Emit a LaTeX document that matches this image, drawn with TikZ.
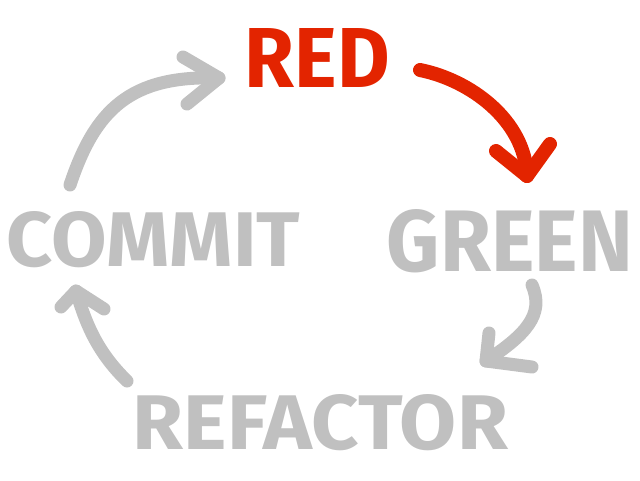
\documentclass[tikz,border=0pt]{standalone}
\usepackage{fontspec}
\setmainfont{Fira Sans}
\usepackage{graphicx}
\definecolor{tddred}{HTML}{E32400}
\definecolor{tddgray}{HTML}{C0C0C0}
\tikzset{
  word/.style={inner sep=0pt, outer sep=0pt, font=\bfseries},
  stroke/.style={line width=13pt, line cap=round, line join=round},
  redstroke/.style={stroke, draw=tddred, line width=14pt},
  graystroke/.style={stroke, draw=tddgray}
}
\begin{document}
\begin{tikzpicture}[x=1pt,y=-1pt]
\useasboundingbox (0,0) rectangle (640,480);
% words
\node[word, text=tddred] (red) at (317.5,57.5) {\resizebox{145pt}{59pt}{RED}};
\node[word, text=tddgray] (green) at (510,241) {\resizebox{246pt}{62pt}{GREEN}};
\node[word, text=tddgray] (refactor) at (320.5,422.5) {\resizebox{375pt}{55pt}{REFACTOR}};
\node[word, text=tddgray] (commit) at (153.5,239.5) {\resizebox{293pt}{55pt}{COMMIT}};
% arrow end points
\coordinate (rgS) at (420,70);
\coordinate (rgT) at (527,176);
\coordinate (rgB1) at (496,151);
\coordinate (rgB2) at (550,144);
\coordinate (grS) at (532,285);
\coordinate (grT) at (486,361);
\coordinate (grB1) at (489,333);
\coordinate (grB2) at (532,367);
\coordinate (rcS) at (127,381);
\coordinate (rcT) at (76,291);
\coordinate (rcB1) at (61,307);
\coordinate (rcB2) at (104,309);
\coordinate (crS) at (70,185);
\coordinate (crT) at (219,78);
\coordinate (crB1) at (183,57);
\coordinate (crB2) at (187,104);
% red -> green
\draw[redstroke] (rgS) .. controls (470,80) and (525,120) .. (rgT);
\draw[redstroke] (rgB1) -- (rgT) -- (rgB2);
% green -> refactor
\draw[graystroke] (grS) .. controls (545,315) and (525,335) .. (grT);
\draw[graystroke] (grB1) -- (grT) -- (grB2);
% refactor -> commit
\draw[graystroke] (rcS) .. controls (95,350) and (85,320) .. (rcT);
\draw[graystroke] (rcB1) -- (rcT) -- (rcB2);
% commit -> red
\draw[graystroke] (crS) .. controls (95,110) and (130,75) .. (crT);
\draw[graystroke] (crB1) -- (crT) -- (crB2);
\end{tikzpicture}
\end{document}
